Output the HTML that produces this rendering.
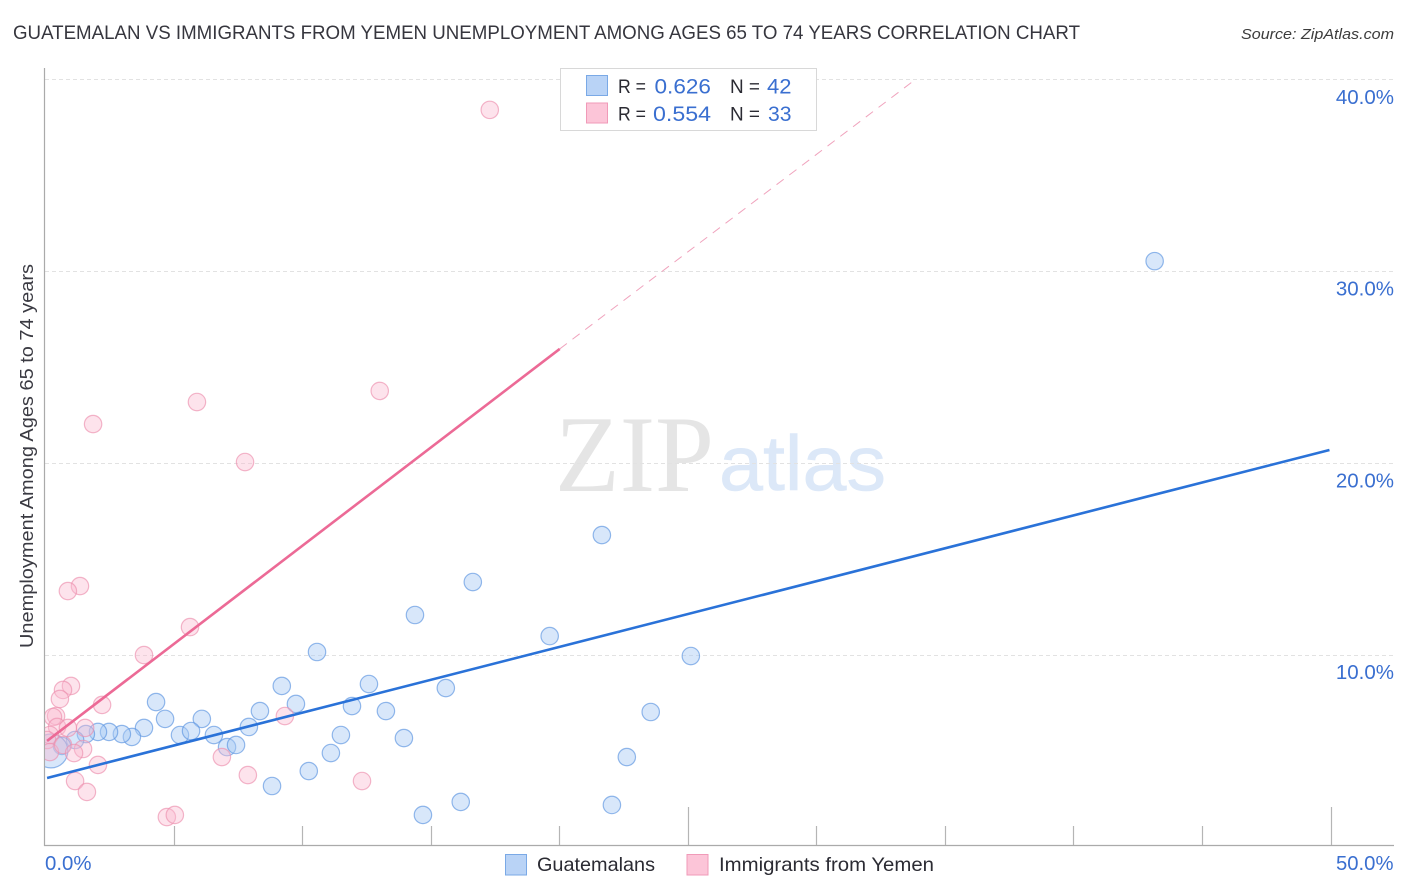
<!DOCTYPE html>
<html lang="en">
<head>
<meta charset="utf-8">
<title>Guatemalan vs Immigrants from Yemen Correlation Chart</title>
<style>
html,body{margin:0;padding:0;background:#fff;width:1406px;height:892px;overflow:hidden}
svg{display:block;font-family:"Liberation Sans",sans-serif}
</style>
</head>
<body>
<svg id="chart" width="1406" height="892" viewBox="0 0 1406 892" xmlns="http://www.w3.org/2000/svg">
  <defs>
    <clipPath id="plot-clip"><rect x="45" y="60" width="1349" height="785.5"/></clipPath>
  </defs>
  <rect x="0" y="0" width="1406" height="892" fill="#fff"/>

  <g>
    <text x="555" y="491" font-family="'Liberation Serif',serif" font-size="109" fill="#e5e5e5" textLength="159" lengthAdjust="spacingAndGlyphs">ZIP</text>
    <text x="719" y="490" font-size="78" fill="#dce8f8" stroke="#dce8f8" stroke-width="0.6" textLength="167" lengthAdjust="spacingAndGlyphs">atlas</text>
  </g>

  <g id="grid"></g>
  <g id="ticks"></g>
  <line x1="44.5" y1="68" x2="44.5" y2="846" stroke="#aaa" stroke-width="1.2"/>
  <line x1="44" y1="845.5" x2="1394" y2="845.5" stroke="#aaa" stroke-width="1.2"/>

  <g id="marks-blue" clip-path="url(#plot-clip)"></g>
  <g id="marks-pink" clip-path="url(#plot-clip)"></g>
  <g id="trends"></g>

  <text x="13" y="39" font-size="19.5" fill="#36363e" textLength="1067" lengthAdjust="spacingAndGlyphs">GUATEMALAN VS IMMIGRANTS FROM YEMEN UNEMPLOYMENT AMONG AGES 65 TO 74 YEARS CORRELATION CHART</text>
  <text x="1241" y="39" font-size="15" font-style="italic" fill="#3c3c3c" textLength="153" lengthAdjust="spacingAndGlyphs">Source: ZipAtlas.com</text>
  <text transform="translate(33,648) rotate(-90)" x="0" y="0" font-size="18.5" fill="#3a3a42" textLength="384" lengthAdjust="spacingAndGlyphs">Unemployment Among Ages 65 to 74 years</text>

  <g id="y-labels"></g>
  <text x="45" y="870" font-size="20" fill="#3a6fd0" textLength="46.5" lengthAdjust="spacingAndGlyphs">0.0%</text>
  <text x="1336" y="870" font-size="20" fill="#3a6fd0" textLength="57.5" lengthAdjust="spacingAndGlyphs">50.0%</text>

  <g>
    <rect x="560.5" y="68.5" width="256" height="62" fill="#fff" stroke="#d8d8d8" stroke-width="1"/>
    <rect x="586.5" y="75.5" width="21" height="20" fill="#b9d3f6" stroke="#7aa9e6"/>
    <rect x="586.5" y="103" width="21" height="20" fill="#fcc5d8" stroke="#f09ab8"/>
    <text x="618" y="93" font-size="19" fill="#2b2b33" textLength="28" lengthAdjust="spacingAndGlyphs">R =</text>
    <text x="654.5" y="93.5" font-size="21" fill="#3a6fd0" textLength="56.5" lengthAdjust="spacingAndGlyphs">0.626</text>
    <text x="730" y="93" font-size="19" fill="#2b2b33" textLength="30" lengthAdjust="spacingAndGlyphs">N =</text>
    <text x="767" y="93.5" font-size="21" fill="#3a6fd0" textLength="24.5" lengthAdjust="spacingAndGlyphs">42</text>
    <text x="618" y="120.5" font-size="19" fill="#2b2b33" textLength="28" lengthAdjust="spacingAndGlyphs">R =</text>
    <text x="653" y="121" font-size="21" fill="#3a6fd0" textLength="58" lengthAdjust="spacingAndGlyphs">0.554</text>
    <text x="730" y="120.5" font-size="19" fill="#2b2b33" textLength="30" lengthAdjust="spacingAndGlyphs">N =</text>
    <text x="768" y="121" font-size="21" fill="#3a6fd0" textLength="23.5" lengthAdjust="spacingAndGlyphs">33</text>
  </g>

  <g>
    <rect x="505.5" y="854.5" width="21" height="20.5" fill="#b9d3f6" stroke="#7aa9e6"/>
    <text x="537" y="871" font-size="19.5" fill="#2b2b33" textLength="118" lengthAdjust="spacingAndGlyphs">Guatemalans</text>
    <rect x="687" y="854.5" width="21" height="20.5" fill="#fcc5d8" stroke="#f09ab8"/>
    <text x="719" y="871" font-size="19.5" fill="#2b2b33" textLength="215" lengthAdjust="spacingAndGlyphs">Immigrants from Yemen</text>
  </g>
</svg>

<script>
// Data (x and y both in percent)
const blueX = [43.16,21.66,16.64,14.39,19.63,10.58,25.12,12.60,9.21,15.59,4.32,9.76,11.94,8.36,13.26,23.56,4.67,6.10,7.93,3.85,3.38,2.99,2.49,2.06,1.59,1.17,0.66,0.23,5.25,5.68,6.57,7.08,7.43,11.51,13.96,11.12,22.63,10.26,8.83,16.17,22.05,14.70];
const blueY = [30.52,16.23,13.78,12.06,10.96,10.13,9.92,8.46,8.36,8.25,7.52,7.42,7.31,7.05,7.05,7.00,6.64,6.64,6.22,6.17,5.70,5.85,5.96,5.96,5.85,5.54,5.23,4.97,5.80,6.01,5.80,5.17,5.28,5.80,5.64,4.86,4.65,3.92,3.14,2.31,2.15,1.63];
const blueWeight = [1,1,1,1,1,1,1,1,1,1,1,1,1,1,1,1,1,1,1,1,1,1,1,1,1,1,1,3.8,1,1,1,1,1,1,1,1,1,1,1,1,1,1];
const pinkX = [3.85,1.01,0.70,0.58,2.22,0.43,0.31,0.47,0.89,1.56,0.19,0.08,0.19,0.70,1.48,1.13,2.06,1.17,1.63,4.74,5.05,6.88,7.89,9.33,17.30,13.02,5.91,1.87,7.78,1.36,0.89,5.64,12.33];
const pinkY = [9.97,8.36,8.15,7.68,7.37,6.79,6.74,6.22,6.17,6.17,5.80,5.54,4.91,5.28,5.07,4.86,4.24,3.40,2.83,1.52,1.63,4.65,3.71,6.79,38.41,23.75,23.17,22.02,20.04,13.57,13.31,11.43,3.40];
const blueTrendX = [0.08,49.96];
const blueTrendY = [3.56,20.67];
const pinkTrendX = [0.08,20.02];
const pinkTrendY = [5.49,25.94];
const pinkDashX = [20.02,33.83];
const pinkDashY = [25.94,39.97];
const yTicks = [10,20,30,40];
const yTickLabels = ["10.0%","20.0%","30.0%","40.0%"];
const xTicks = [5,10,15,20,25,30,35,40,45,50];
const xMajorTicks = [25,50];

const NS = "http://www.w3.org/2000/svg";
const xScale = v => 45 + v * 25.71;
const yScale = v => 846.2 - v * 19.17;
const baseRadius = 8.7;

function make(tag, attrs, parent) {
  const el = document.createElementNS(NS, tag);
  for (const k in attrs) el.setAttribute(k, attrs[k]);
  parent.appendChild(el);
  return el;
}

const gridG = document.getElementById("grid");
const ticksG = document.getElementById("ticks");
const labelsG = document.getElementById("y-labels");
const blueG = document.getElementById("marks-blue");
const pinkG = document.getElementById("marks-pink");
const trendG = document.getElementById("trends");

yTicks.forEach((t, i) => {
  const py = Math.round(yScale(t)) + 0.5;
  const line = make("line", {x1: 45, y1: py, x2: 1394, y2: py, stroke: "#e2e2e2", "stroke-width": 1, "stroke-dasharray": "4 3"}, gridG);
  
  
  const label = make("text", {x: 1394, y: yScale(t) + 24.5, "font-size": 20.5, fill: "#3a6fd0", "text-anchor": "end"}, labelsG);
  
  
  label.textContent = yTickLabels[i];
});

xTicks.forEach(t => {
  const px = Math.round(xScale(t)) + 0.5;
  const top = xMajorTicks.includes(t) ? 807 : 826;
  const tick = make("line", {x1: px, y1: top, x2: px, y2: 845, stroke: "#b5b5b5", "stroke-width": 1.2}, ticksG);
  
  
});

blueX.forEach((v, i) => {
  const c = make("circle", {cx: xScale(v), cy: yScale(blueY[i]), r: baseRadius * Math.sqrt(blueWeight[i]), fill: "#a9caf3", "fill-opacity": 0.45, stroke: "#5b93e0", "stroke-opacity": 0.65, "stroke-width": 1.2}, blueG);
  
  
});

pinkX.forEach((v, i) => {
  const c = make("circle", {cx: xScale(v), cy: yScale(pinkY[i]), r: baseRadius, fill: "#fbb8cf", "fill-opacity": 0.4, stroke: "#ec8fae", "stroke-opacity": 0.65, "stroke-width": 1.2}, pinkG);
  
  
});

const pinkDash = make("line", {x1: xScale(pinkDashX[0]), y1: yScale(pinkDashY[0]), x2: xScale(pinkDashX[1]), y2: yScale(pinkDashY[1]), stroke: "#f0a3bd", "stroke-width": 1, "stroke-dasharray": "9 7"}, trendG);



const pinkLine = make("line", {x1: xScale(pinkTrendX[0]), y1: yScale(pinkTrendY[0]), x2: xScale(pinkTrendX[1]), y2: yScale(pinkTrendY[1]), stroke: "#ec6a96", "stroke-width": 2.6}, trendG);



const blueLine = make("line", {x1: xScale(blueTrendX[0]), y1: yScale(blueTrendY[0]), x2: xScale(blueTrendX[1]), y2: yScale(blueTrendY[1]), stroke: "#2a72d8", "stroke-width": 2.6}, trendG);


</script>
</body>
</html>
